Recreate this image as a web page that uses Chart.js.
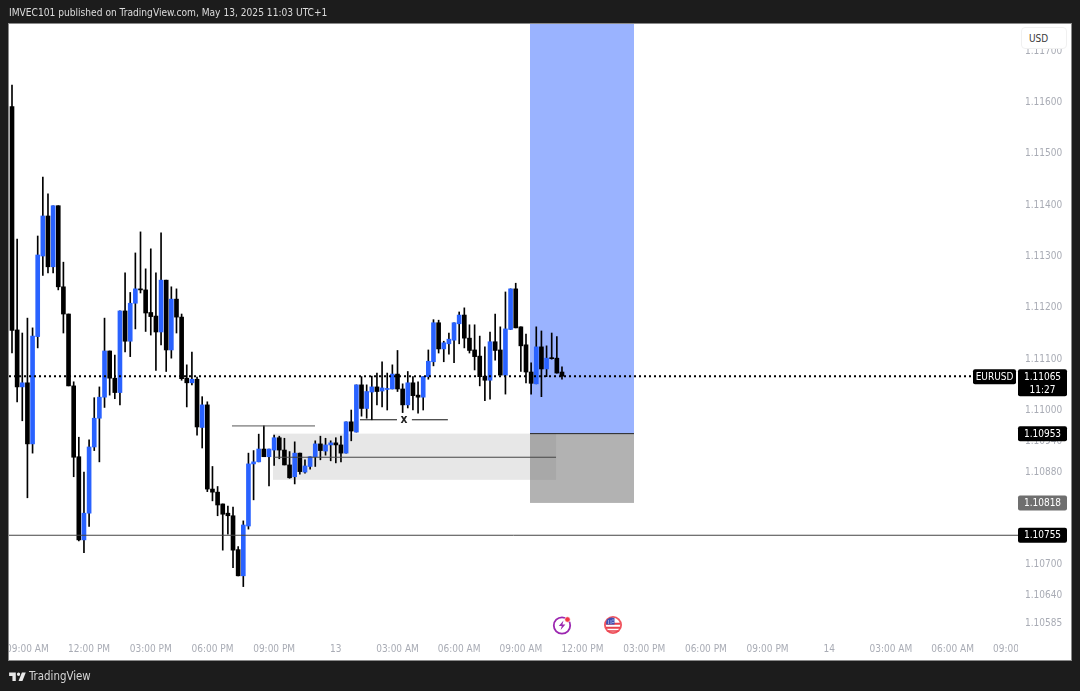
<!DOCTYPE html>
<html>
<head>
<meta charset="utf-8">
<title>EURUSD 15m</title>
<script src="https://cdn.jsdelivr.net/npm/chart.js@4"></script>
<style>
    html, body { margin: 0; padding: 0; background: #1c1c1c; }
    #wrap { position: relative; width: 1080px; height: 691px; overflow: hidden; font-family: "DejaVu Sans Condensed", "DejaVu Sans", sans-serif; }
    #priceChart { position: absolute; left: 0; top: 0; }
    .caption { position: absolute; white-space: nowrap; color: #dcdcdc; }
    #published { left: 9px; top: 5px; font-size: 10.15px; line-height: 16px; }
    #brand { left: 29px; top: 667px; font-size: 11.4px; line-height: 18px; color: #d6d6d6; }
    #logo { position: absolute; left: 8px; top: 669px; }
    #usd { position: absolute; left: 1021px; top: 27px; width: 46px; height: 22px; box-sizing: border-box;
           background: #fff; border: 1px solid #f0f0f0; border-radius: 4px; color: #3a3a3a;
           font-size: 10px; line-height: 22px; padding-left: 7px; }
    .event { position: absolute; top: 615px; }
</style>
</head>
<body>
<div id="wrap">
    <canvas id="priceChart" width="1080" height="691"></canvas>
    <div class="caption" id="published">IMVEC101 published on TradingView.com, May 13, 2025 11:03 UTC+1</div>
    <svg id="logo" width="20" height="16" viewBox="0 0 36 28" fill="#e8e8e8">
        <path d="M14 6H2v6h6v9h6V6Zm12 15h-7l6-15h7l-6 15Zm-7-9a3 3 0 1 0 0-6 3 3 0 0 0 0 6Z"/>
    </svg>
    <div class="caption" id="brand">TradingView</div>
    <div id="usd">USD</div>
    <svg class="event" style="left:552px" width="21" height="20" viewBox="0 0 21 20">
        <circle cx="10" cy="10.5" r="8.2" fill="#fff" stroke="#9c27b0" stroke-width="1.8"/>
        <path d="M11.5 5.5 6.8 11h3l-1.2 4 4.8-5.6h-3z" fill="#9c27b0"/>
        <circle cx="15.5" cy="4.5" r="2.7" fill="#f23645" stroke="#fff" stroke-width=".6"/>
    </svg>
    <svg class="event" style="left:603px" width="20" height="20" viewBox="0 0 20 20">
        <circle cx="10" cy="10" r="9" fill="#f0545e"/>
        <circle cx="10" cy="10" r="7.2" fill="#fff"/>
        <path d="M3 7.8h14v2H3zM3 11.8h14v2H3zM5 15.2h10v1.6H5z" fill="#e8404c"/>
        <path d="M4 4.5A7.2 7.2 0 0 1 11.5 3v6.5H3.2A7 7 0 0 1 4 4.5z" fill="#3f51b5"/>
        <path d="M5 6h1M7.5 6h1M5 8h1M7.5 8h1M9.5 5h1M9.5 7.5h1" stroke="#fff" stroke-width=".9"/>
    </svg>
</div>

<script>
// 15 minute EURUSD candles
const opens = [
    1.11590, 1.11155, 1.11044, 1.11052, 1.10933, 1.11142, 1.11299, 1.11377, 1.11278, 1.11397, 1.11239, 1.11186,
    1.11046, 1.10908, 1.10746, 1.10798, 1.10927, 1.10983, 1.11024, 1.11114, 1.11061, 1.11033, 1.11192, 1.11133,
    1.11207, 1.11235, 1.11233, 1.11189, 1.11182, 1.11151, 1.11252, 1.11116, 1.11215, 1.11180, 1.11061, 1.11052,
    1.11059, 1.10965, 1.11009, 1.10845, 1.10839, 1.10816, 1.10798, 1.10793, 1.10727, 1.10676, 1.10773, 1.10894,
    1.10898, 1.10923, 1.10908, 1.10921, 1.10945, 1.10921, 1.10892, 1.10869, 1.10915, 1.10878, 1.10889, 1.10908,
    1.10933, 1.10919, 1.10931, 1.10935, 1.10931, 1.10915, 1.10976, 1.10956, 1.11048, 1.11002, 1.11034, 1.11044,
    1.11036, 1.11039, 1.11040, 1.11069, 1.11040, 1.11009, 1.11052, 1.11028, 1.11024, 1.11064, 1.11093, 1.11169,
    1.11118, 1.11128, 1.11135, 1.11167, 1.11184, 1.11139, 1.11116, 1.11104, 1.11065, 1.11057, 1.11132, 1.11116,
    1.11067, 1.11156, 1.11235, 1.11161, 1.11126, 1.11073, 1.11050, 1.11122, 1.11079, 1.11101, 1.11100, 1.11073
];
const highs = [
    1.11632, 1.11332, 1.11149, 1.11178, 1.11159, 1.11338, 1.11453, 1.11420, 1.11397, 1.11397, 1.11287, 1.11186,
    1.11054, 1.10946, 1.10878, 1.10941, 1.11023, 1.11044, 1.11178, 1.11114, 1.11106, 1.11192, 1.11266, 1.11228,
    1.11305, 1.11346, 1.11274, 1.11313, 1.11266, 1.11344, 1.11252, 1.11239, 1.11235, 1.11186, 1.11087, 1.11112,
    1.11063, 1.11025, 1.11015, 1.10889, 1.10850, 1.10816, 1.10812, 1.10810, 1.10733, 1.10783, 1.10915, 1.10920,
    1.10952, 1.10968, 1.10923, 1.10950, 1.10948, 1.10944, 1.10918, 1.10937, 1.10915, 1.10902, 1.10908, 1.10939,
    1.10948, 1.10944, 1.10939, 1.10945, 1.10948, 1.10976, 1.10999, 1.11048, 1.11064, 1.11048, 1.11065, 1.11071,
    1.11093, 1.11071, 1.11087, 1.11115, 1.11050, 1.11074, 1.11064, 1.11054, 1.11064, 1.11116, 1.11175, 1.11174,
    1.11133, 1.11149, 1.11169, 1.11190, 1.11198, 1.11165, 1.11165, 1.11143, 1.11122, 1.11151, 1.11186, 1.11161,
    1.11229, 1.11235, 1.11246, 1.11161, 1.11147, 1.11091, 1.11161, 1.11153, 1.11124, 1.11149, 1.11142, 1.11083
];
const lows = [
    1.11110, 1.11015, 1.10978, 1.10828, 1.10915, 1.11120, 1.11261, 1.11266, 1.11266, 1.11233, 1.11149, 1.11046,
    1.10869, 1.10744, 1.10721, 1.10772, 1.10920, 1.10898, 1.11004, 1.11028, 1.11021, 1.11009, 1.11112, 1.11103,
    1.11157, 1.11227, 1.11152, 1.11145, 1.11076, 1.11126, 1.11074, 1.11100, 1.11149, 1.11057, 1.11005, 1.11048,
    1.10950, 1.10925, 1.10840, 1.10822, 1.10793, 1.10726, 1.10757, 1.10692, 1.10676, 1.10655, 1.10767, 1.10824,
    1.10898, 1.10908, 1.10851, 1.10891, 1.10904, 1.10892, 1.10866, 1.10855, 1.10874, 1.10876, 1.10884, 1.10889,
    1.10902, 1.10911, 1.10900, 1.10896, 1.10898, 1.10915, 1.10939, 1.10956, 1.10987, 1.10983, 1.10980, 1.11009,
    1.11005, 1.10999, 1.11040, 1.11035, 1.10994, 1.11003, 1.10999, 1.10993, 1.10999, 1.11059, 1.11085, 1.11110,
    1.11093, 1.11108, 1.11091, 1.11128, 1.11120, 1.11110, 1.11077, 1.11046, 1.11017, 1.11020, 1.11096, 1.11067,
    1.11030, 1.11156, 1.11159, 1.11074, 1.11052, 1.11030, 1.11050, 1.11025, 1.11064, 1.11098, 1.11071, 1.11059
];
const closes = [
    1.11154, 1.11044, 1.11052, 1.10933, 1.11143, 1.11301, 1.11377, 1.11278, 1.11397, 1.11239, 1.11186, 1.11046,
    1.10907, 1.10746, 1.10798, 1.10927, 1.10983, 1.11024, 1.11114, 1.11061, 1.11033, 1.11192, 1.11133, 1.11207,
    1.11235, 1.11233, 1.11188, 1.11181, 1.11151, 1.11252, 1.11116, 1.11215, 1.11180, 1.11060, 1.11052, 1.11059,
    1.10966, 1.11009, 1.10845, 1.10839, 1.10814, 1.10796, 1.10793, 1.10726, 1.10676, 1.10775, 1.10894, 1.10898,
    1.10923, 1.10908, 1.10923, 1.10945, 1.10921, 1.10892, 1.10867, 1.10915, 1.10879, 1.10890, 1.10908, 1.10933,
    1.10920, 1.10931, 1.10935, 1.10931, 1.10915, 1.10976, 1.10958, 1.11048, 1.11002, 1.11035, 1.11044, 1.11035,
    1.11042, 1.11041, 1.11069, 1.11040, 1.11009, 1.11052, 1.11027, 1.11024, 1.11064, 1.11094, 1.11169, 1.11118,
    1.11130, 1.11137, 1.11169, 1.11184, 1.11139, 1.11115, 1.11103, 1.11064, 1.11057, 1.11132, 1.11115, 1.11067,
    1.11157, 1.11235, 1.11159, 1.11124, 1.11073, 1.11051, 1.11122, 1.11079, 1.11100, 1.11099, 1.11071, 1.11065
];

// Axis ticks. Time ticks fall on every 12th bar, starting at bar 3
const timeLabels = ['09:00 AM', '12:00 PM', '03:00 PM', '06:00 PM', '09:00 PM', '13', '03:00 AM', '06:00 AM', '09:00 AM',
    '12:00 PM', '03:00 PM', '06:00 PM', '09:00 PM', '14', '03:00 AM', '06:00 AM', '09:00 AM'];
const priceTicks = [1.117, 1.116, 1.115, 1.114, 1.113, 1.112, 1.111, 1.11, 1.1094, 1.1088, 1.107, 1.1064, 1.10585];

// Position drawing levels
const lastPrice = closes[closes.length - 1];
const entryPrice = 1.10953;
const stopPrice = 1.10818;
const supportPrice = 1.10755;
const imbalanceLow = 1.10863;
const imbalanceMid = 1.10907;
const swingHigh = 1.10968;
const markPrice = 1.10980;

const BLUE = '#2962ff';
const FONT = '"DejaVu Sans Condensed", "DejaVu Sans"';

// Plain drawings that sit on the price scales
const zonesPlugin = {
    id: 'zones',
    beforeDatasetsDraw(chart) {
        const { ctx, scales: { x, y }, chartArea } = chart;
        const box = (a, b, top, bottom, color) => {
            ctx.fillStyle = color;
            ctx.fillRect(x.getPixelForValue(a), top, x.getPixelForValue(b) - x.getPixelForValue(a), bottom - top);
        };
        box(100.78, 121.01, chartArea.top, y.getPixelForValue(entryPrice), '#9ab3ff');
        box(100.78, 121.01, y.getPixelForValue(entryPrice), y.getPixelForValue(stopPrice), '#b2b2b2');
        box(50.78, 105.84, y.getPixelForValue(entryPrice), y.getPixelForValue(imbalanceLow), 'rgba(120,120,120,0.18)');
    },
    afterDatasetsDraw(chart) {
        const { ctx, scales: { x, y }, chartArea } = chart;
        const hline = (a, b, price, color, dash) => {
            ctx.save();
            ctx.strokeStyle = color;
            ctx.lineWidth = dash ? 2 : 1;
            if (dash) ctx.setLineDash(dash);
            ctx.beginPath();
            ctx.moveTo(a, y.getPixelForValue(price));
            ctx.lineTo(b, y.getPixelForValue(price));
            ctx.stroke();
            ctx.restore();
        };
        const px = i => x.getPixelForValue(i);
        hline(chartArea.left, chartArea.right, supportPrice, '#444');
        hline(px(42.8), px(58.95), swingHigh, '#555');
        hline(px(50.78), px(105.84), imbalanceMid, '#444');
        hline(px(67.7), px(74.9), markPrice, '#111');
        hline(px(77.8), px(84.8), markPrice, '#111');
        hline(px(100.78), px(121.01), entryPrice, '#222');
        hline(chartArea.left, 972, lastPrice, '#000', [2, 3]);

        ctx.fillStyle = '#222';
        ctx.font = 'bold 12px ' + FONT;
        ctx.textAlign = 'center';
        ctx.textBaseline = 'middle';
        ctx.fillText('x', px(76.26), y.getPixelForValue(markPrice));
    }
};

// Window frame and the tags on the price axis
const framePlugin = {
    id: 'frame',
    beforeDraw(chart) {
        const { ctx } = chart;
        ctx.fillStyle = '#ffffff';
        ctx.fillRect(9, 24, 1062, 636);
        ctx.strokeStyle = '#8a8a8a';
        ctx.strokeRect(8.5, 23.5, 1063, 637);
    },
    afterDraw(chart) {
        const { ctx, scales: { y }, chartArea } = chart;
        // trim the time labels running past the time axis
        ctx.fillStyle = '#1c1c1c';
        ctx.fillRect(0, chartArea.bottom, 8, 24);
        ctx.fillStyle = '#8a8a8a';
        ctx.fillRect(8, chartArea.bottom, 1, 24);
        ctx.fillStyle = '#ffffff';
        ctx.fillRect(chartArea.right, chartArea.bottom, 53, 23);

        const tag = (x, yTop, w, h, color, lines) => {
            ctx.fillStyle = color;
            ctx.beginPath();
            ctx.roundRect(x, yTop, w, h, 2);
            ctx.fill();
            ctx.fillStyle = '#ffffff';
            ctx.font = '10px ' + FONT;
            ctx.textAlign = 'center';
            ctx.textBaseline = 'middle';
            lines.forEach((text, n) => ctx.fillText(text, x + w / 2, yTop + 8 + n * 13));
        };
        const level = price => y.getPixelForValue(price);
        tag(973, level(lastPrice) - 7, 43, 15, '#000', ['EURUSD']);
        tag(1018, level(lastPrice) - 7, 49, 27, '#000', [lastPrice.toFixed(5), '11:27']);
        tag(1018, level(entryPrice) - 7.5, 49, 15, '#000', [entryPrice.toFixed(5)]);
        tag(1018, level(stopPrice) - 7.5, 49, 15, '#6f6f6f', [stopPrice.toFixed(5)]);
        tag(1018, level(supportPrice) - 7.5, 49, 15, '#000', [supportPrice.toFixed(5)]);
    }
};

const bars = opens.map((o, i) => i);
const bodyColors = opens.map((o, i) => closes[i] >= o ? BLUE : '#000000');

new Chart(document.getElementById('priceChart'), {
    type: 'bar',
    data: {
        datasets: [
            {
                label: 'Wick',
                data: bars.map(i => ({ x: i, y: [lows[i], highs[i]] })),
                backgroundColor: '#000000',
                barThickness: 1,
                grouped: false,
                order: 2
            },
            {
                label: 'Body',
                data: bars.map(i => ({ x: i, y: [opens[i], closes[i]] })),
                backgroundColor: bodyColors,
                barThickness: 4,
                grouped: false,
                order: 1
            }
        ]
    },
    plugins: [framePlugin, zonesPlugin],
    options: {
        responsive: false,
        animation: false,
        layout: { padding: { left: 9, top: 24, right: 9, bottom: 31 } },
        plugins: { legend: { display: false }, tooltip: { enabled: false } },
        scales: {
            x: {
                type: 'linear',
                offset: false,
                min: -0.584,
                max: 195.72,
                grid: { display: false, drawTicks: false },
                border: { display: false },
                // the first label may overhang the plot, so it must not push it over
                afterFit: scale => {
                    scale.height = 24;
                    scale.paddingLeft = 0;
                    scale.paddingRight = 0;
                },
                afterBuildTicks: scale => {
                    scale.ticks = timeLabels.map((t, n) => ({ value: 3 + n * 12 }));
                },
                ticks: {
                    autoSkip: false,
                    maxRotation: 0,
                    padding: 7,
                    color: '#a9acb5',
                    font: { family: FONT, size: 10 },
                    callback: (value, index) => timeLabels[index]
                }
            },
            y: {
                position: 'right',
                min: 1.1055876,
                max: 1.1175098,
                grid: { display: false, drawTicks: false },
                border: { display: false },
                afterFit: scale => { scale.width = 53; },
                afterBuildTicks: scale => {
                    scale.ticks = priceTicks.map(v => ({ value: v }));
                },
                // price labels sit a pixel under their level
                afterUpdate: scale => {
                    const labelItems = scale.getLabelItems;
                    scale.getLabelItems = function (area) {
                        const items = labelItems.call(this, area);
                        items.forEach(item => { item.textOffset = 1; });
                        return items;
                    };
                },
                ticks: {
                    autoSkip: false,
                    padding: 7,
                    color: '#a9acb5',
                    font: { family: FONT, size: 10 },
                    callback: value => value.toFixed(5)
                }
            }
        }
    }
});
</script>
</body>
</html>
